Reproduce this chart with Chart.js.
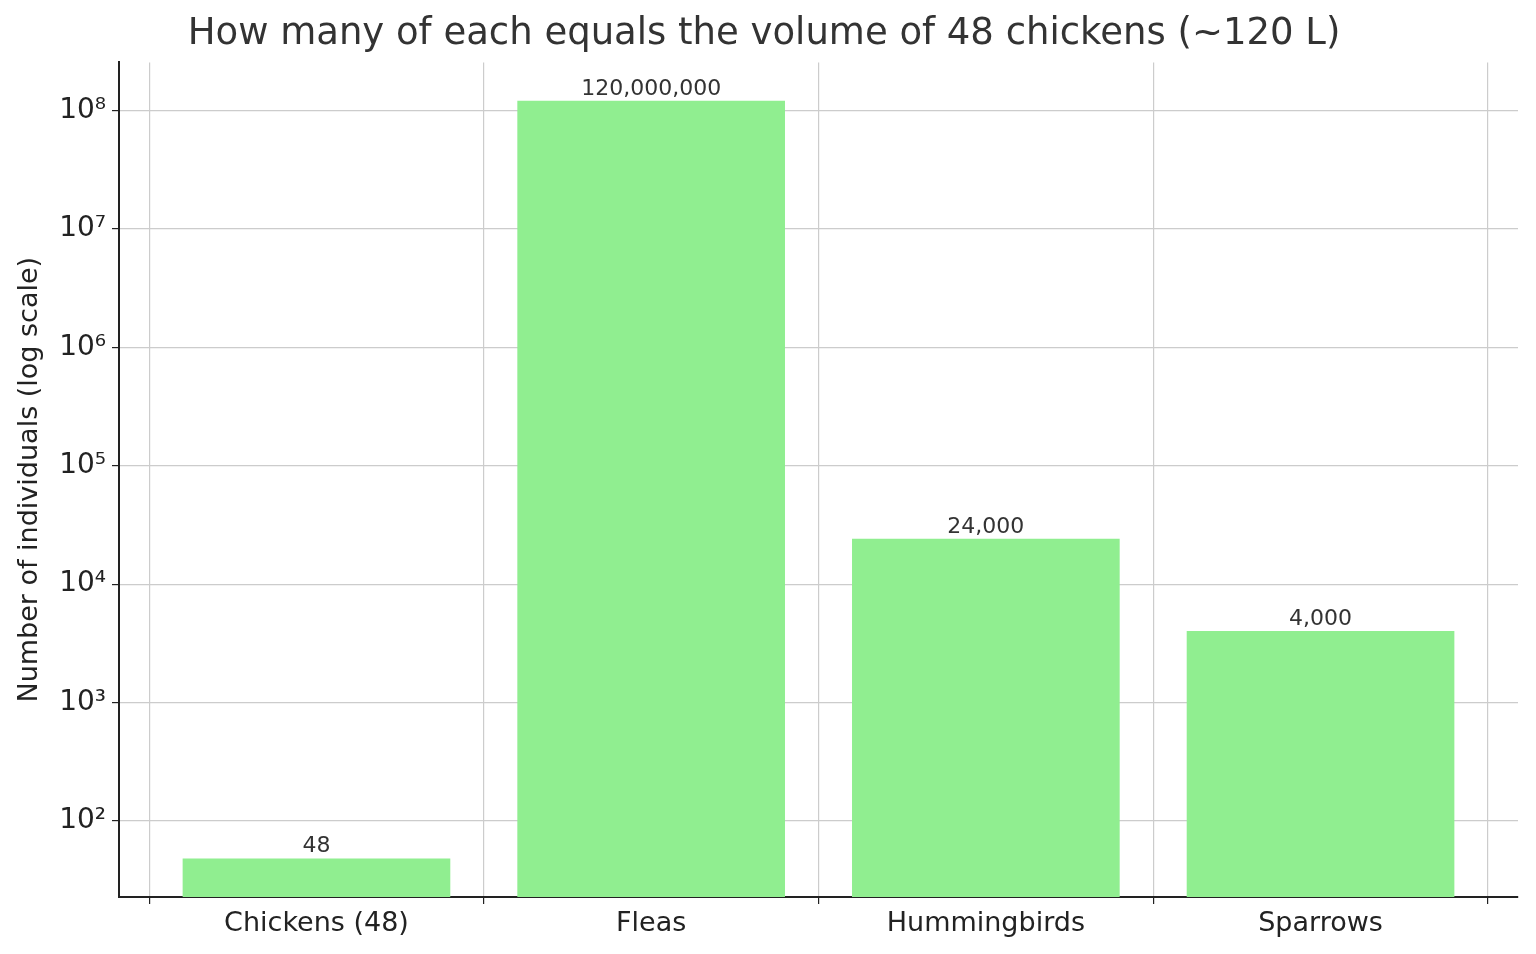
<!DOCTYPE html>
<html>
<head>
<meta charset="utf-8">
<script src="https://cdn.jsdelivr.net/npm/chart.js@4"></script>
<style>
  html, body { margin: 0; padding: 0; background: #fff; }
  #wrap { width: 1536px; height: 954px; }
</style>
</head>
<body>
<div id="wrap"><canvas id="chart"></canvas></div>
<script>
const categories = ['Chickens (48)', 'Fleas', 'Hummingbirds', 'Sparrows'];
const counts = [48, 120000000, 24000, 4000];
const countLabels = ['48', '120,000,000', '24,000', '4,000'];
const supers = { 2: '²', 3: '³', 4: '⁴', 5: '⁵', 6: '⁶', 7: '⁷', 8: '⁸' };

// Draw value labels above each bar
const valueLabels = {
  id: 'valueLabels',
  afterDatasetsDraw(chart) {
    const ctx = chart.ctx;
    const meta = chart.getDatasetMeta(0);
    ctx.save();
    ctx.fillStyle = '#333';
    ctx.font = "22px 'DejaVu Sans', sans-serif";
    ctx.textAlign = 'center';
    ctx.textBaseline = 'bottom';
    meta.data.forEach((bar, i) => {
      ctx.fillText(countLabels[i], bar.x, bar.y - 1);
    });
    ctx.restore();
  },
};

const grid = { color: '#cccccc', borderDash: [6, 4], lineWidth: 1.2 };

new Chart(document.getElementById('chart'), {
  type: 'bar',
  data: {
    datasets: [{
      data: counts.map((v, i) => ({ x: i, y: v })),
      backgroundColor: '#90ee90',
      barThickness: 267,
      base: 22.8,
    }],
  },
  plugins: [valueLabels],
  options: {
    responsive: true,
    maintainAspectRatio: false,
    animation: false,
    layout: { padding: { left: 10, right: 18, top: 10, bottom: 0 } },
    plugins: {
      legend: { display: false },
      tooltip: { enabled: false },
      title: {
        display: true,
        text: 'How many of each equals the volume of 48 chickens (~120 L)',
        color: '#333',
        font: { family: "'DejaVu Sans', sans-serif", size: 37, weight: 'normal' },
        padding: { top: 2, bottom: 6 },
      },
    },
    scales: {
      x: {
        type: 'linear',
        min: -0.59,
        max: 3.59,
        offset: false,
        afterBuildTicks: (s) => { s.ticks = categories.map((_, i) => ({ value: i })); },
        ticks: {
          callback: (v) => categories[v] ?? '',
          color: '#222',
          font: { family: "'DejaVu Sans', sans-serif", size: 27 },
          padding: 4,
        },
        grid: { ...grid, drawTicks: true, tickColor: '#222', tickLength: 7, tickBorderDash: [] },
        border: { color: '#222', width: 2 },
        afterFit: (s) => { s.height = 57; },
      },
      y: {
        type: 'logarithmic',
        min: 22.8,
        max: 2.55e8,
        afterBuildTicks: (s) => {
          s.ticks = [2, 3, 4, 5, 6, 7, 8].map((e) => ({ value: Math.pow(10, e) }));
        },
        ticks: {
          callback: (v) => '10' + supers[Math.round(Math.log10(v))],
          color: '#222',
          font: { family: "'DejaVu Sans', sans-serif", size: 28 },
          padding: 6,
        },
        grid: { ...grid, drawTicks: true, tickColor: '#222', tickLength: 7, tickBorderDash: [] },
        border: { color: '#222', width: 2 },
        title: {
          display: true,
          text: 'Number of individuals (log scale)',
          color: '#222',
          font: { family: "'DejaVu Sans', sans-serif", size: 27 },
          padding: { bottom: 8 },
        },
        afterFit: (s) => { s.width = 109; },
      },
    },
  },
});
</script>
</body>
</html>
